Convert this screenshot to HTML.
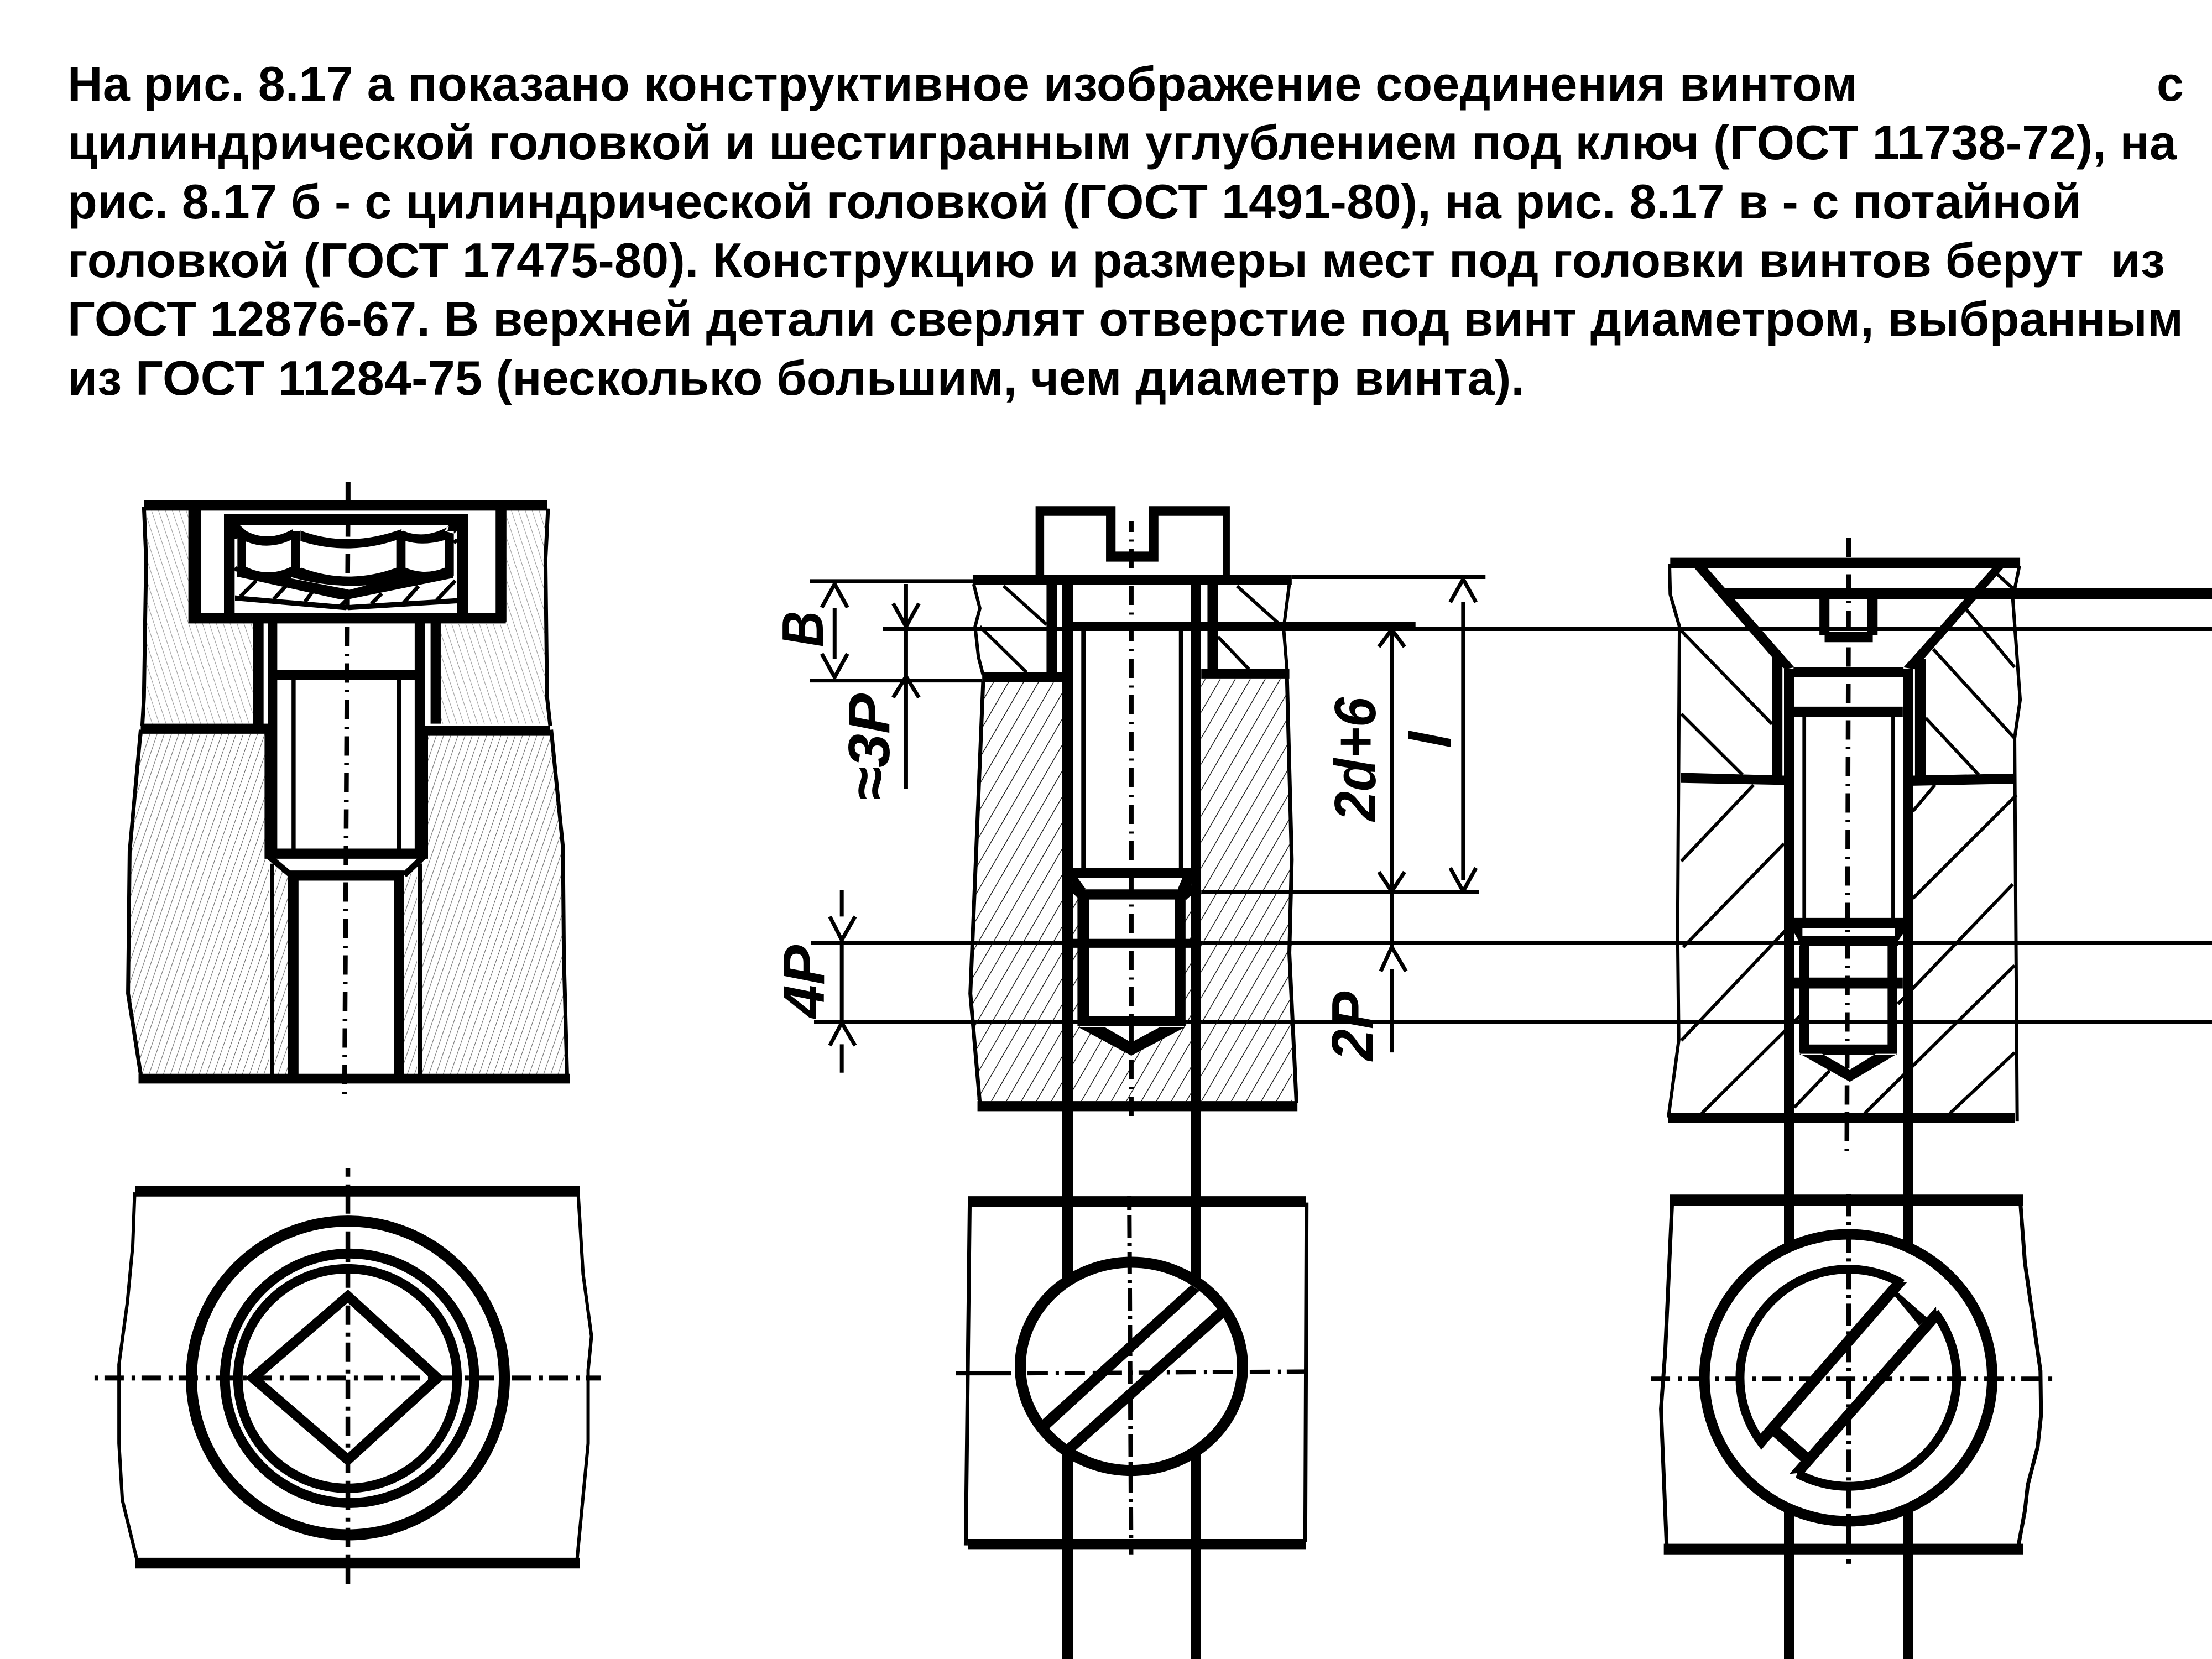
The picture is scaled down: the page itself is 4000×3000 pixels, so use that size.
<!DOCTYPE html>
<html lang="ru"><head><meta charset="utf-8"><title>Рис. 8.17</title>
<style>
html,body{margin:0;padding:0;background:#fff}
svg{display:block}
.g *{vector-effect:non-scaling-stroke}
.f{fill:#000;stroke:none}
.s{fill:none;stroke:#000;stroke-linecap:butt;stroke-linejoin:round}
.t{font-family:"Liberation Sans",sans-serif;font-weight:700;font-size:88px;fill:#000}
.d{font-family:"Liberation Sans",sans-serif;font-weight:700;font-style:italic;font-size:106px;fill:#000}
</style></head><body>
<svg xmlns="http://www.w3.org/2000/svg" width="4000" height="3000" viewBox="0 0 4000 3000">
<defs>
<pattern id="h1" patternUnits="userSpaceOnUse" width="22.6" height="52"><path d="M0 52L22.6 0M-5 11.5L5 -11.5M17.6 63.5L27.6 40.5" stroke="#555" stroke-width="1.5" fill="none"/></pattern>
<pattern id="h2" patternUnits="userSpaceOnUse" width="21.8" height="52"><path d="M0 0L21.8 52M-5 40L5 64M16.8 -12L26.8 12" stroke="#888" stroke-width="1.4" fill="none"/></pattern>
<pattern id="h3" patternUnits="userSpaceOnUse" width="31.5" height="64"><path d="M0 64L31.5 0M-6 12L6 -12M25.5 76L37.5 52" stroke="#111" stroke-width="1.7" fill="none"/></pattern>
</defs>
<rect width="4000" height="3000" fill="#fff"/>

<text class="t" x="122" y="182" textLength="3237">На рис. 8.17 а показано конструктивное изображение соединения винтом</text>
<text class="t" x="3900" y="182">с</text>
<text class="t" x="122" y="288" textLength="3814">цилиндрической головкой и шестигранным углублением под ключ (ГОСТ 11738-72), на</text>
<text class="t" x="122" y="395" textLength="3642">рис. 8.17 б - с цилиндрической головкой (ГОСТ 1491-80), на рис. 8.17 в - с потайной</text>
<text class="t" x="122" y="501" textLength="3793" xml:space="preserve">головкой (ГОСТ 17475-80). Конструкцию и размеры мест под головки винтов берут  из</text>
<text class="t" x="122" y="607" textLength="3826">ГОСТ 12876-67. В верхней детали сверлят отверстие под винт диаметром, выбранным</text>
<text class="t" x="122" y="714" textLength="2635">из ГОСТ 11284-75 (несколько большим, чем диаметр винта).</text>

<!-- view a, section -->
<g class="g" transform="translate(200 850) scale(.574 .7337)">
<path fill="url(#h2)" d="M115 100H245V375H447V625H115ZM1247 100H1370V625H1040V380H1247Z"/>
<path fill="url(#h1)" d="M95 650H485V950L500 970V1490H95L60 1290V950ZM1000 655H1385L1425 940L1435 1490H975V960L1000 945ZM515 975L560 1000V1490H515ZM925 1000L965 975V1490H925Z"/>
<path class="s" stroke-width="7" d="M105 90L112 220L105 560L100 630M1378 95L1370 220L1375 560L1385 630M95 640L60 940L55 1290L95 1490M1388 640L1425 930L1428 1200L1438 1490"/>
<path class="f" d="M105 75H1375V100H105ZM245 100H285V375H245ZM1213 100H1247V375H1213ZM245 352H1245V378H245ZM448 378H482V625H448ZM1008 378H1040V625H1008ZM495 378H525V650H495ZM958 378H990V650H958ZM485 640H525V950H485ZM958 640H1000V950H958ZM95 625H495V650H95ZM990 630H1385V655H990ZM525 492H958V518H525ZM570 518H583V940H570ZM902 518H915V940H902ZM485 933H1000V958H485ZM560 987H925V1012H560ZM558 1000H592V1490H558ZM892 1000H925V1490H892ZM502 970H515V1490H502ZM968 970H982V1490H968ZM88 1488H1447V1512H88Z"/>
<path class="s" stroke-width="11" d="M495 950L568 998M990 950L925 998"/>
<path class="s" stroke-width="9" d="M748 30V75"/>
</g>
<!-- head of view a -->
<g class="g" transform="translate(400 910) scale(.33333)">
<path class="f" d="M15 60H1335V118H15ZM15 60H73V600H15ZM1280 60H1338V600H1280ZM88 150H135V395H88ZM378 150H427V395H378ZM950 150H1000V395H950ZM1212 150H1262V395H1212ZM73 118H100L135 150L88 190L73 195ZM1280 118H1235L1212 150L1262 165L1280 150ZM100 120L135 150Q255 215 390 140L378 200Q255 256 135 208L88 190ZM430 148Q690 246 980 140L950 200Q690 287 430 205ZM985 148Q1100 200 1235 125L1212 200Q1100 234 1000 205ZM135 345Q255 405 378 345V420L85 400ZM435 350Q690 446 950 350L1020 405Q690 496 360 395ZM1000 350Q1106 394 1212 350L1262 400L1000 410ZM85 345L365 405L675 465L695 470L960 400L1260 370V405L695 520H640L85 398ZM75 500L675 552V580L75 528ZM690 552L1280 515V543L690 580Z"/>
<path class="s" stroke-width="7" d="M105 505L190 420M285 520L350 450M455 535L495 480M650 555L680 525M815 545L870 490M990 540L1070 450M1170 525L1270 420M1262 215L1280 198M73 365L90 350"/>
</g>
<g class="g" transform="translate(200 850) scale(.574 .7337)">
<path class="s" stroke-width="8.5" stroke-dasharray="35 13.5 4 13.5" stroke-dashoffset="57.5" d="M748 105L737 1540"/>
</g>

<!-- view a, plan -->
<g class="g" transform="translate(200 2100) scale(.606 .5102)">
<path class="f" d="M73 87H1400V125H73ZM73 1405H1400V1443H73Z"/>
<path class="s" stroke-width="6" d="M72 110L66 300L50 500L25 720V1000L35 1200L78 1410M1395 110L1410 400L1435 620L1425 740V1000L1392 1410"/>
<ellipse class="s" stroke-width="20" cx="708" cy="768" rx="467" ry="556"/>
<ellipse class="s" stroke-width="18" cx="713" cy="769" rx="372" ry="442"/>
<ellipse class="s" stroke-width="17" cx="707" cy="770" rx="327" ry="389"/>
<path class="s" style="stroke-linejoin:miter" stroke-width="18" d="M425 768L708 478L975 768L708 1058Z"/>
<path class="s" stroke-width="9" stroke-dasharray="7 11 35 14" d="M-48 768H1462"/>
<path class="s" stroke-width="8.5" stroke-dasharray="35 14 7 11" stroke-dashoffset="20" d="M708 25V1510"/>
</g>

<!-- long lines -->
<path class="f" d="M3117 1064H4000V1083H3117ZM1921 1056H1940V3000H1921ZM2154 1056H2172V3000H2154ZM3226 1210H3245V3000H3226ZM3441 1210H3460V3000H3441Z"/>
<path class="s" stroke-width="8" d="M1597 1137H4000M1466 1705H4000M1472 1848H4000"/>

<!-- view b, section -->
<g class="g" transform="translate(1350 880) scale(.861 .7334)">
<path fill="url(#h3)" d="M497 482H663V1515H485L470 1250ZM955 475H1135L1145 920V1515H955ZM685 965L700 1000V1330L808 1395L920 1330V1000L935 965V1515H685Z"/>
<path class="f" d="M607 60H625V225H607ZM607 48H775V72H607ZM755 48H775V185H755ZM755 160H865V185H755ZM845 48H865V185H845ZM845 48H1015V72H845ZM1000 60H1015V225H1000ZM485 1515H1157V1540H485ZM475 218H1145V242H475ZM682 333H1405V355H682ZM495 458H668V482H495ZM955 450H1140V473H955ZM630 240H652V458H630ZM968 240H990V450H968ZM703 355H712V940H703ZM908 355H917V940H908ZM682 940H935V965H682ZM695 993H925V1018H695ZM695 1005H720V1320H695ZM900 1005H922V1320H900ZM685 1115H935V1137H685ZM695 1305H922V1330H695Z"/>
<path class="s" stroke-width="7" d="M133 233H475M1145 223H1552M133 478H495M955 1000H1538"/>
<path class="s" stroke-width="6" d="M477 240L490 300L480 345L487 420L497 465M1140 240L1128 350L1135 450"/>
<path class="s" stroke-width="7" d="M497 480L470 1250L490 1520M1135 470L1145 920L1140 1150L1155 1520"/>
<path class="s" stroke-width="6" d="M540 245L630 340M490 345L588 458M1030 245L1120 340M990 370L1055 450"/>
<path class="s" stroke-width="8.5" stroke-dasharray="35 13.5 4 13.5" stroke-dashoffset="15.3" d="M808 85V1568"/>
<path class="s" stroke-width="7" d="M185 300V425M158 298L185 240L212 298M158 412L185 470L212 412M335 240V468M308 288L335 345L362 288M308 520L335 468L362 520M335 468V745M200 995V1060M175 1060L200 1118L228 1060M200 1125V1320M175 1378L200 1322L228 1378M200 1375V1445M1355 350V1135M1328 395L1355 352L1382 395M1328 950L1355 998L1382 950M1332 1195L1355 1135L1385 1195M1355 1190V1395M1505 285V970M1478 285L1505 228L1532 285M1478 940L1505 998L1532 940"/>
</g>
<path class="f" d="M1949 1857L2045.7 1909L2144 1857H2098L2045.7 1885L1997 1857ZM1940 1588H1949L1963 1607L1948 1623L1940 1615ZM2138 1588L2130 1607L2145 1627L2153 1620V1588Z"/>
<text class="d" transform="translate(1488 1170) rotate(-90)" textLength="65" lengthAdjust="spacingAndGlyphs">B</text>
<text class="d" transform="translate(1608 1448) rotate(-90)" textLength="194" lengthAdjust="spacingAndGlyphs">≈3P</text>
<text class="d" transform="translate(1490 1841) rotate(-90)" textLength="132" lengthAdjust="spacingAndGlyphs">4P</text>
<text class="d" transform="translate(2487 1485) rotate(-90)" textLength="224" lengthAdjust="spacingAndGlyphs">2d+6</text>
<text class="d" transform="translate(2624 1353) rotate(-90)" textLength="30" lengthAdjust="spacingAndGlyphs">l</text>
<text class="d" transform="translate(2482 1918) rotate(-90)" textLength="125" lengthAdjust="spacingAndGlyphs">2P</text>

<!-- view b, plan -->
<g class="g" transform="translate(1700 2100) scale(.4785 .574)">
<path class="f" d="M105 110H1382V143H105ZM105 1190H1382V1222H105Z"/>
<path class="s" stroke-width="7" d="M112 125L97 1210M1385 130L1380 1200"/>
<ellipse cx="723" cy="646" rx="420" ry="328" fill="#fff" stroke="#000" stroke-width="20"/>
<path class="f" d="M385 815L948 390L980 408L412 842ZM477 892L1048 465L1072 493L510 912Z"/>
<path class="s" stroke-width="7.5" d="M60 668H268"/>
<path class="s" stroke-width="7.5" stroke-dasharray="37 14 6 10" d="M330 668L1415 662"/>
<path class="s" stroke-width="8" stroke-dasharray="40 10 6 10" stroke-dashoffset="30" d="M715 108L722 1240"/>
</g>

<!-- view c, section -->
<g class="g" transform="translate(2950 950) scale(.6696 .7334)">
<path class="f" d="M105 80H1050V105H105ZM170 105H205L440 350L415 355L380 325ZM975 105H1005L765 355L735 350ZM508 180H535V270H508ZM637 180H665V270H637ZM522 262H652V288H522ZM438 350H735V375H438ZM380 325H408V620H380ZM766 330H795V620H766ZM440 447H733V472H440ZM462 472H472V970H462ZM702 472H712V970H702ZM438 968H735V993H438ZM455 1012H720V1037H455ZM453 1037H480V1300H453ZM692 1037H718V1300H692ZM440 1115H733V1142H440ZM455 1280H718V1305H455ZM133 610L415 617V640L133 635ZM760 617L1035 612V637L760 642ZM100 1448H1035V1473H100ZM455 1303L590 1372L718 1303H660L590 1342L515 1303ZM440 993H462V1012L455 1030L440 1005ZM712 993H735V1005L720 1025L712 1012Z"/>
<path class="s" stroke-width="6" d="M103 95L105 170L130 250L125 1000L128 1270L100 1460M1048 100L1030 180L1050 430L1035 525L1042 1470"/>
<path class="s" stroke-width="6" d="M135 260L380 490M135 465L300 615M905 208L1035 350M815 305L1035 525M795 475L938 615M985 118L1030 155M330 640L135 828M412 785L140 1040M415 1000L135 1270M455 1210L190 1450M535 1345L440 1435M820 640L760 705M1040 665L760 920M1030 885L720 1180M1035 1085L630 1450M1035 1300L860 1450"/>
<path class="s" stroke-width="8.5" stroke-dasharray="35 13.5 4 13.5" stroke-dashoffset="65.5" d="M587 30L582 1545"/>
</g>

<!-- view c, plan -->
<g class="g" transform="translate(2950 2100) scale(.5102 .574)">
<path class="f" d="M137 105H1388V140H137ZM115 1205H1388V1240H115Z"/>
<path class="s" stroke-width="7" d="M145 120L120 600L105 780L125 1210M1378 120L1395 320L1450 660L1452 800L1440 900L1405 1020L1395 1100L1372 1210"/>
<ellipse cx="769" cy="682" rx="510" ry="452" fill="#fff" stroke="#000" stroke-width="19"/>
<ellipse class="s" stroke-width="16" cx="769" cy="682" rx="384" ry="342"/>
<path fill="#fff" d="M945 412L985 345L1120 450L1047 492ZM500 868L600 945L575 1020L440 930Z"/>
<path class="f" d="M458 858L922 385L978 380L500 868L458 908ZM560 985L1080 458L1082 508L615 980ZM920 410L945 413L1047 492L1020 518ZM500 865L525 838L628 918L600 945Z"/>
<path class="s" stroke-width="8" stroke-dasharray="35 14 7 11" stroke-dashoffset="60" d="M55 685H1495"/>
<path class="s" stroke-width="8.5" stroke-dasharray="40 10 6 10" stroke-dashoffset="60" d="M770 93V1268"/>
</g>
</svg>
</body></html>
